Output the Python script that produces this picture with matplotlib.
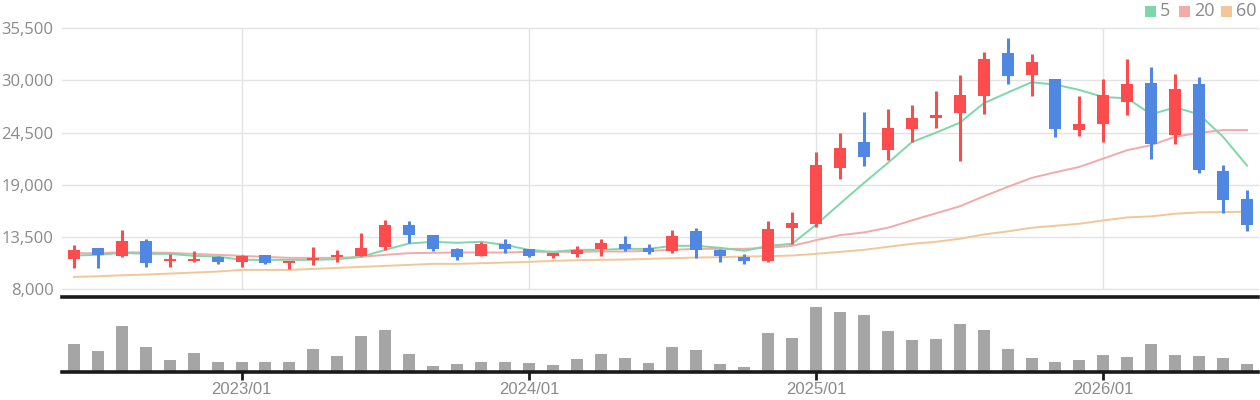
import matplotlib
matplotlib.use("Agg")
import matplotlib.pyplot as plt
import numpy as np
import pandas as pd
from matplotlib.patches import Rectangle

# ---------------- data ----------------
months = [d.strftime("%Y/%m") for d in pd.date_range("2022-06-01", periods=50, freq="MS")]

opens = [11240, 12370, 11520, 13100, 11030, 10990, 11450, 10920, 11630, 10780,
         11100, 11410, 11520, 12470, 14790, 13740, 12260, 11520, 12790, 12260,
         11520, 11730, 12260, 12790, 12370, 12050, 14160, 12150, 11410, 10990,
         14480, 14890, 20810, 23450, 22610, 24830, 25990, 26520, 28350, 32850,
         30530, 30110, 24720, 25350, 27680, 29680, 24190, 29580, 20500, 17540]
closes = [12150, 11560, 13100, 10780, 11240, 11200, 10920, 11520, 10780, 10990,
          11310, 11630, 12370, 14790, 13740, 12260, 11410, 12790, 12260, 11520,
          11840, 12150, 12890, 12260, 11940, 13630, 12150, 11520, 10990, 14370,
          15000, 21120, 22820, 21970, 24930, 25990, 26300, 28420, 32220, 30420,
          31900, 24830, 25350, 28420, 29580, 23240, 29050, 20600, 17430, 14790]
highs = [12650, 12370, 14270, 13320, 11730, 12050, 11520, 11630, 11630, 10990,
         12470, 12150, 13950, 15320, 15220, 13740, 12370, 13000, 13320, 12260,
         11840, 12580, 13320, 13630, 12790, 14270, 14480, 12260, 11730, 15220,
         16170, 22500, 24400, 26620, 26940, 27360, 28840, 30530, 32960, 34440,
         32750, 30110, 28310, 30110, 32220, 31370, 30630, 30320, 21130, 18490]
lows = [10290, 10290, 11410, 10360, 10360, 10890, 10680, 10360, 10680, 10180,
        10570, 10890, 11520, 12150, 12890, 12050, 11100, 11520, 11840, 11410,
        11310, 11410, 11520, 12050, 11730, 11840, 11310, 10890, 10680, 10890,
        12790, 14570, 19650, 21020, 21660, 23450, 24930, 21550, 26410, 29590,
        28310, 23980, 24090, 23450, 26300, 21760, 23240, 20290, 16060, 14160]

ma5 = [11555, 11626, 11837, 11731, 11731, 11520, 11450, 11098, 11098, 11098,
       11098, 11168, 11414, 12154, 12822, 12998, 12893, 12998, 12682, 12154,
       11942, 12154, 12154, 12259, 12259, 12576, 12576, 12365, 12048, 12576,
       12787, 14800, 17011, 19194, 21306, 23488, 24474, 25530, 27571, 28698,
       29789, 29542, 28979, 28240, 28099, 26410, 27149, 26410, 24051, 21024]
ma20 = [11802, 11802, 11907, 11872, 11837, 11731, 11626, 11520, 11414, 11309,
        11309, 11309, 11414, 11626, 11802, 11837, 11872, 11872, 11872, 11942,
        11942, 11942, 11978, 11978, 12048, 12154, 12259, 12259, 12259, 12365,
        12576, 13170, 13702, 13984, 14477, 15251, 15990, 16730, 17786, 18771,
        19722, 20320, 20883, 21763, 22643, 23171, 24051, 24474, 24755, 24755]
ma60 = [9302, 9373, 9478, 9549, 9654, 9760, 9866, 10042, 10042, 10042,
        10147, 10253, 10358, 10464, 10570, 10675, 10675, 10746, 10816, 10886,
        10992, 11062, 11098, 11133, 11203, 11274, 11344, 11379, 11450, 11485,
        11555, 11731, 11942, 12154, 12470, 12787, 12998, 13315, 13773, 14090,
        14477, 14688, 14899, 15251, 15568, 15674, 15955, 16096, 16131, 16166]

volumes = [84, 63, 138, 75, 36, 57, 30, 30, 30, 30,
           69, 48, 108, 126, 54, 18, 24, 30, 30, 27,
           21, 39, 54, 42, 27, 75, 66, 24, 15, 117,
           102, 195, 180, 171, 123, 96, 99, 144, 126, 69,
           42, 30, 36, 51, 45, 84, 51, 48, 42, 24]

price_ticks = [8000, 13500, 19000, 24500, 30000, 35500]
ma_labels = ["5", "20", "60"]

# ---------------- style ----------------
RED = "#fc4c4e"
BLUE = "#4f87e2"
MA_COLORS = ["#80d6ab", "#f2aaaa", "#f2c797"]
GRID = "#e3e3e3"
TXT = "#8a8a8a"
VOL = "#a5a5a5"

W, H = 1260, 400
fig = plt.figure(figsize=(W / 100, H / 100), dpi=100)

x = np.arange(len(months))
xlim = (-0.5, 49.46)
left, right = 62, 1258

# volume axes: 297 -> 372 (created first so the main axes spine sits on top)
vtop, vbot = 297, 372
axv = fig.add_axes([left / W, 1 - vbot / H, (right - left) / W, (vbot - vtop) / H])
axv.patch.set_visible(False)
axv.set_xlim(*xlim)
axv.set_ylim(0, 224)
axv.bar(x, volumes, width=0.5, color=VOL, linewidth=0)
for s in ["left", "right", "top"]:
    axv.spines[s].set_visible(False)
axv.spines["bottom"].set_color("#1a1a1a")
axv.spines["bottom"].set_linewidth(2.6)
axv.set_yticks([])

# main axes: y pixel 28 -> 297
top_px, bot_px = 28, 297
ax = fig.add_axes([left / W, 1 - bot_px / H, (right - left) / W, (bot_px - top_px) / H])
ax.patch.set_visible(False)
ymax = 35500
px_per = (35500 - 8000) / (289.3 - 28)
ymin = 8000 - (bot_px - 289.3) * px_per
ax.set_ylim(ymin, ymax)
ax.set_xlim(*xlim)

for s in ["left", "right", "top"]:
    ax.spines[s].set_visible(False)
ax.spines["bottom"].set_color("#1a1a1a")
ax.spines["bottom"].set_linewidth(2.6)

for t in price_ticks:
    ax.axhline(t, color=GRID, lw=1, zorder=0, clip_on=False)

jan_idx = [i for i, m in enumerate(months) if m.endswith("/01")]
ax.vlines(jan_idx, price_ticks[0], price_ticks[-1], color=GRID, lw=1, zorder=0)

ax.set_yticks(price_ticks)
ax.set_yticklabels([f"{t:,}" for t in price_ticks], fontsize=12, color=TXT, family="Open Sans")
ax.tick_params(axis="y", length=0, pad=6)
ax.set_xticks([])

axv.set_xticks(jan_idx)
axv.set_xticklabels([months[i] for i in jan_idx], fontsize=12, color=TXT, family="Liberation Sans")
axv.tick_params(axis="x", length=6, width=2, color="#1a1a1a", pad=1)

# moving averages
for vals, c in zip([ma60, ma20, ma5], MA_COLORS[::-1]):
    ax.plot(x, vals, color=c, lw=1.4, zorder=2)

# candles
o = np.array(opens); c = np.array(closes); h = np.array(highs); l = np.array(lows)
colors = [RED if cc >= oo else BLUE for oo, cc in zip(o, c)]
ax.vlines(x, l, h, color=colors, lw=2.2, zorder=3)
body_bottom = np.minimum(o, c)
body_h = np.maximum(np.abs(c - o), 150)
ax.bar(x, body_h, bottom=body_bottom, width=0.5, color=colors, zorder=4, linewidth=0)

# legend (top right)
items = [(1145, "5"), (1179, "20"), (1221, "60")]
for (px, lab), col in zip(items, MA_COLORS):
    fig.patches.append(Rectangle((px / W, 1 - 16.5 / H), 11 / W, 11 / H,
                                 transform=fig.transFigure, color=col, linewidth=0))
    fig.text((px + 15) / W, 1 - 11 / H, lab, fontsize=13, color=TXT,
             va="center", ha="left", family="Open Sans")

fig.savefig("out.png", dpi=100)
